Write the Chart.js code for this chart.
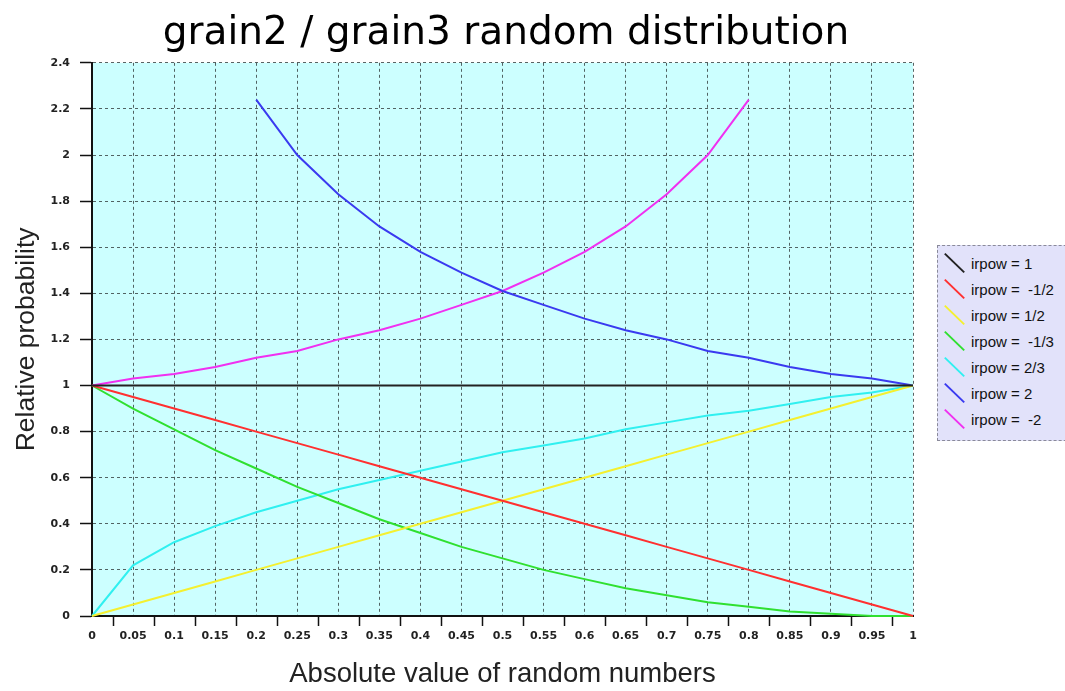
<!DOCTYPE html>
<html>
<head>
<meta charset="utf-8">
<script src="https://cdn.jsdelivr.net/npm/chart.js@4/dist/chart.umd.min.js"></script>
<style>
  html, body { margin: 0; padding: 0; background: #fff; overflow: hidden; }
  #wrap { position: relative; width: 1065px; height: 691px; overflow: hidden; }
  #legend {
    position: absolute; left: 937px; top: 245px; width: 150px; height: 196px;
    background: #e2e2fa; border: 1px dashed #8a8a9a; box-sizing: border-box;
    font-family: "Liberation Sans", Arial, sans-serif; font-size: 15px; color: #111;
    padding-top: 4px;
  }
  .legend-item { display: flex; align-items: center; height: 26px; white-space: pre; }
  .legend-item i {
    display: inline-block; width: 27px; height: 2px; margin: 0 3px 0 3px;
    background: var(--color); transform: rotate(44deg);
  }
</style>
</head>
<body>
<div id="wrap">
  <canvas id="chart" width="1065" height="691"></canvas>
  <div id="legend"></div>
</div>
<script>
const xValues = [0, 0.05, 0.1, 0.15, 0.2, 0.25, 0.3, 0.35, 0.4, 0.45, 0.5,
  0.55, 0.6, 0.65, 0.7, 0.75, 0.8, 0.85, 0.9, 0.95, 1];

const irpow1 = [1, 1, 1, 1, 1, 1, 1, 1, 1, 1, 1, 1, 1, 1, 1, 1, 1, 1, 1, 1, 1];
const irpowMinusHalf = [1, 0.95, 0.9, 0.85, 0.8, 0.75, 0.7, 0.65, 0.6, 0.55, 0.5,
  0.45, 0.4, 0.35, 0.3, 0.25, 0.2, 0.15, 0.1, 0.05, 0];
const irpowHalf = [0, 0.05, 0.1, 0.15, 0.2, 0.25, 0.3, 0.35, 0.4, 0.45, 0.5,
  0.55, 0.6, 0.65, 0.7, 0.75, 0.8, 0.85, 0.9, 0.95, 1];
const irpowMinusThird = [1, 0.9, 0.81, 0.72, 0.64, 0.56, 0.49, 0.42, 0.36, 0.3, 0.25,
  0.2, 0.16, 0.12, 0.09, 0.06, 0.04, 0.02, 0.01, 0, 0];
const irpowTwoThirds = [0, 0.22, 0.32, 0.39, 0.45, 0.5, 0.55, 0.59, 0.63, 0.67, 0.71,
  0.74, 0.77, 0.81, 0.84, 0.87, 0.89, 0.92, 0.95, 0.97, 1];
const irpow2 = [null, null, null, null, 2.24, 2.0, 1.83, 1.69, 1.58, 1.49, 1.41,
  1.35, 1.29, 1.24, 1.2, 1.15, 1.12, 1.08, 1.05, 1.03, 1];
const irpowMinus2 = [1, 1.03, 1.05, 1.08, 1.12, 1.15, 1.2, 1.24, 1.29, 1.35, 1.41,
  1.49, 1.58, 1.69, 1.83, 2.0, 2.24, null, null, null, null];

const SERIES = [
  { label: "irpow = 1", values: irpow1, color: "#222222" },
  { label: "irpow =  -1/2", values: irpowMinusHalf, color: "#ff3030" },
  { label: "irpow = 1/2", values: irpowHalf, color: "#f4f030" },
  { label: "irpow =  -1/3", values: irpowMinusThird, color: "#30e030" },
  { label: "irpow = 2/3", values: irpowTwoThirds, color: "#30f0f0" },
  { label: "irpow = 2", values: irpow2, color: "#3a3af0" },
  { label: "irpow =  -2", values: irpowMinus2, color: "#f030f0" },
];

const plotBackground = {
  id: "plotBackground",
  beforeDraw(chart) {
    const { ctx, chartArea } = chart;
    ctx.save();
    ctx.fillStyle = "#ccffff";
    ctx.fillRect(chartArea.left, chartArea.top, chartArea.right - chartArea.left, chartArea.bottom - chartArea.top);
    ctx.restore();
  },
};

// the x tick marks sit half way between the labels in the original
const offsetTicks = {
  id: "offsetTicks",
  afterDraw(chart) {
    const { ctx, scales } = chart;
    const x = scales.x;
    ctx.save();
    ctx.strokeStyle = "#111";
    ctx.lineWidth = 1.5;
    for (let i = 0; i < xValues.length - 1; i++) {
      const px = Math.round(x.getPixelForValue((xValues[i] + xValues[i + 1]) / 2)) + 0.5;
      ctx.beginPath();
      ctx.moveTo(px, x.top + 1);
      ctx.lineTo(px, x.top + 10);
      ctx.stroke();
    }
    ctx.restore();
  },
};

const ctx = document.getElementById("chart").getContext("2d");
new Chart(ctx, {
  type: "line",
  data: {
    datasets: SERIES.map((s) => ({
      label: s.label,
      data: xValues.map((x, i) => ({ x, y: s.values[i] })),
      borderColor: s.color,
      borderWidth: 2,
      pointRadius: 0,
      tension: 0,
      clip: 4,
    })),
  },
  options: {
    animation: false,
    responsive: false,
    layout: { padding: { left: 0, right: 53, top: 0, bottom: 0 } },
    plugins: {
      legend: { display: false },
      tooltip: { enabled: false },
      title: {
        display: true,
        text: "grain2 / grain3 random distribution",
        color: "#000",
        font: { family: "DejaVu Sans", size: 39, weight: "normal" },
        padding: { top: 10, bottom: 6 },
      },
    },
    scales: {
      x: {
        type: "linear",
        min: 0,
        max: 1,
        afterFit: (scale) => { scale.height = 75; },
        afterBuildTicks: (scale) => { scale.ticks = xValues.map((v) => ({ value: v })); },
        ticks: {
          color: "#222",
          padding: 14,
          maxRotation: 0,
          autoSkip: false,
          font: { family: "DejaVu Sans", size: 11, weight: "bold" },
          callback: (v) => String(Math.round(v * 100) / 100),
        },
        grid: { color: "rgba(50,60,60,0.8)", lineWidth: 1, drawTicks: false },
        border: { display: true, color: "#111", width: 2, dash: [3, 3] },
        title: {
          display: true,
          text: "Absolute value of random numbers",
          color: "#222",
          font: { family: "Liberation Sans", size: 27.5 },
          padding: { top: 0, bottom: 0 },
        },
      },
      y: {
        min: 0,
        max: 2.4,
        afterFit: (scale) => { scale.width = 92; },
        ticks: {
          stepSize: 0.2,
          color: "#222",
          padding: 10,
          font: { family: "DejaVu Sans", size: 11, weight: "bold" },
          callback: (v) => String(Math.round(v * 10) / 10),
        },
        grid: { color: "rgba(50,60,60,0.8)", lineWidth: 1, tickLength: 12, tickColor: "#111", tickWidth: 1.5 },
        border: { display: true, color: "#111", width: 2, dash: [3, 3] },
        title: {
          display: true,
          text: "Relative probability",
          color: "#222",
          font: { family: "Liberation Sans", size: 26.5 },
          padding: { top: 11, bottom: 0 },
        },
      },
      // empty axis that only reserves room for the legend box
      yLegendSpace: {
        position: "right",
        min: 0,
        max: 1,
        afterFit: (scale) => { scale.width = 99; },
        ticks: { display: false },
        grid: { display: false, drawTicks: false },
        border: { display: false },
      },
    },
  },
  plugins: [plotBackground, offsetTicks],
});

const legendBox = document.getElementById("legend");
SERIES.forEach((s) => {
  const item = document.createElement("div");
  item.className = "legend-item";
  item.style.setProperty("--color", s.color);
  item.innerHTML = `<i></i><span>${s.label}</span>`;
  legendBox.appendChild(item);
});
</script>
</body>
</html>
